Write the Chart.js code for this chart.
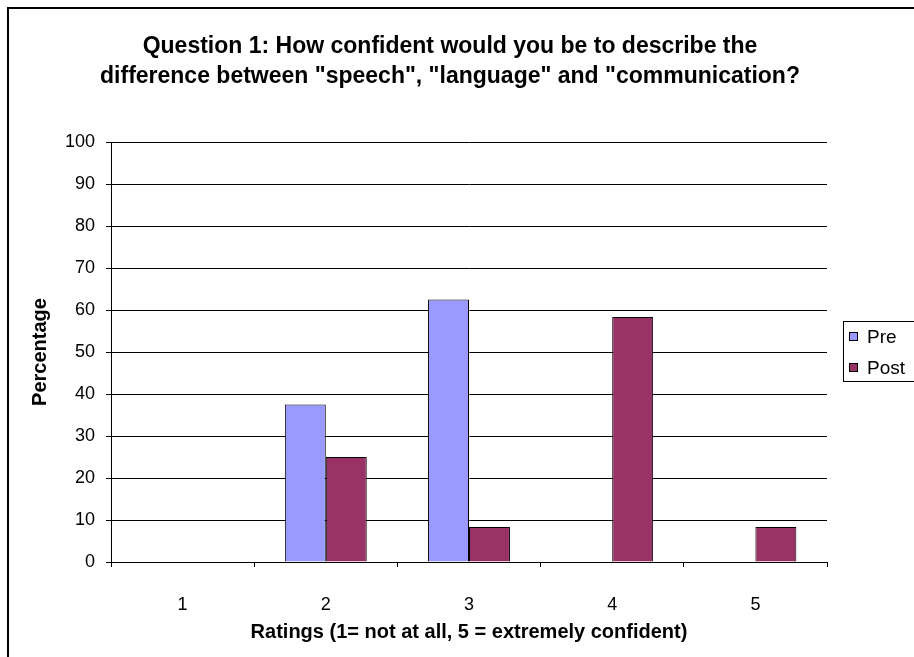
<!DOCTYPE html>
<html>
<head>
<meta charset="utf-8">
<script src="https://cdn.jsdelivr.net/npm/chart.js@4/dist/chart.umd.min.js"></script>
<style>
  html, body { margin: 0; padding: 0; background: #fff; }
  #wrap { position: relative; width: 914px; height: 657px; }
</style>
</head>
<body>
<div id="wrap"><canvas id="c" width="914" height="657"></canvas></div>
<script>
const titleLines = ['Question 1: How confident would you be to describe the', 'difference between "speech", "language" and "communication?'];
const categories = ['1', '2', '3', '4', '5'];
const preValues = [0, 37.5, 62.5, 0, 0];
const postValues = [0, 25, 8.33, 58.33, 8.33];
const seriesNames = ['Pre', 'Post'];
const xAxisTitle = 'Ratings (1= not at all, 5 = extremely confident)';
const yAxisTitle = 'Percentage';

const FONT = '"Liberation Sans", Arial, sans-serif';

const framePlugin = {
  id: 'frame',
  afterDraw(chart) {
    const ctx = chart.ctx;
    ctx.save();
    // outer chart border (left & top visible)
    ctx.strokeStyle = '#000';
    ctx.lineWidth = 2;
    ctx.beginPath();
    ctx.moveTo(8, 657);
    ctx.lineTo(8, 8);
    ctx.lineTo(914, 8);
    ctx.stroke();
    // legend
    const lx = 843.5, ly = 321.5, lw = 90, lh = 60;
    ctx.lineWidth = 1;
    ctx.strokeStyle = '#000';
    ctx.fillStyle = '#fff';
    ctx.fillRect(lx, ly, lw, lh);
    ctx.strokeRect(lx, ly, lw, lh);
    ctx.font = '19px ' + FONT;
    ctx.textBaseline = 'middle';
    chart.data.datasets.forEach((ds, i) => {
      const cy = 337 + i * 31;
      ctx.fillStyle = ds.backgroundColor;
      ctx.fillRect(849.5, cy - 4.5, 8, 8);
      ctx.strokeStyle = '#000';
      ctx.strokeRect(849.5, cy - 4.5, 8, 8);
      ctx.fillStyle = '#000';
      ctx.fillText(ds.label, 867, cy + 1);
    });
    ctx.restore();
  }
};

new Chart(document.getElementById('c'), {
  type: 'bar',
  data: {
    labels: categories,
    datasets: [
      { label: seriesNames[0], data: preValues, backgroundColor: '#9999FF', borderColor: '#000', borderWidth: 1 },
      { label: seriesNames[1], data: postValues, backgroundColor: '#993366', borderColor: '#000', borderWidth: 1 }
    ]
  },
  options: {
    responsive: false,
    animation: false,
    layout: { padding: { left: 0, right: 14, top: 0, bottom: 0 } },
    datasets: { bar: { categoryPercentage: 0.572, barPercentage: 1.0 } },
    plugins: {
      legend: { display: false },
      tooltip: { enabled: false },
      title: {
        display: true,
        text: titleLines,
        color: '#000',
        font: { family: FONT, size: 23, weight: 'bold', lineHeight: '30px' },
        padding: { top: 32, bottom: 50 }
      }
    },
    scales: {
      x: {
        offset: true,
        grid: {
          offset: true,
          drawOnChartArea: true,
          color: (c) => (c.index === categories.length ? '#808080' : 'rgba(0,0,0,0)'),
          tickColor: '#000',
          tickLength: 5,
          lineWidth: 1
        },
        border: { display: true, color: '#000', width: 1 },
        ticks: { color: '#000', font: { family: FONT, size: 18 }, padding: 27 },
        title: {
          display: true, text: xAxisTitle, color: '#000',
          font: { family: FONT, size: 20, weight: 'bold', lineHeight: 1.2 },
          padding: { top: 0, bottom: 13 }
        },
        afterFit(s) { s.height = 95; }
      },
      y: {
        min: 0, max: 100,
        ticks: { stepSize: 10, color: '#000', font: { family: FONT, size: 18 }, padding: 11 },
        grid: { color: '#000', tickColor: '#000', tickLength: 5, lineWidth: 1 },
        border: { display: true, color: '#000', width: 1 },
        title: {
          display: true, text: yAxisTitle, color: '#000',
          font: { family: FONT, size: 20, weight: 'bold', lineHeight: 1.2 },
          padding: { top: 28, bottom: 0 }
        },
        afterFit(s) { s.width = 111; }
      },
      yR: {
        type: 'linear', axis: 'y', position: 'right', display: true,
        grid: { display: false }, border: { display: false }, ticks: { display: false },
        afterFit(s) { s.width = 73; }
      }
    }
  },
  plugins: [framePlugin]
});
</script>
</body>
</html>
